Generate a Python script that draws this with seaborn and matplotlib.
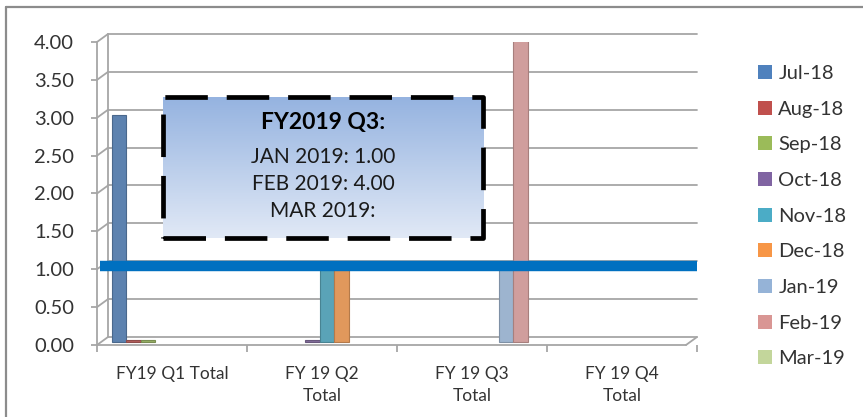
import numpy as np
import pandas as pd
import matplotlib.pyplot as plt
import matplotlib.transforms as mtransforms
from matplotlib.patches import Patch, Rectangle
from matplotlib.lines import Line2D
from matplotlib.colors import LinearSegmentedColormap, to_rgb
import seaborn as sns

# data
quarters = ["FY19 Q1 Total", "FY 19 Q2\nTotal", "FY 19 Q3\nTotal", "FY 19 Q4\nTotal"]
months = ["Jul-18", "Aug-18", "Sep-18", "Oct-18", "Nov-18", "Dec-18", "Jan-19", "Feb-19", "Mar-19"]
q1_values = [3.00, 0.02, 0.02, 0, 0, 0, 0, 0, 0]
q2_values = [0, 0, 0, 0.02, 1.00, 1.00, 0, 0, 0]
q3_values = [0, 0, 0, 0, 0, 0, 1.00, 4.00, 0]
q4_values = [0, 0, 0, 0, 0, 0, 0, 0, 0]
target = 1.00
yticks = [0, 0.5, 1.0, 1.5, 2.0, 2.5, 3.0, 3.5, 4.0]
box_title = "FY2019 Q3:"
box_lines = ["JAN 2019: 1.00", "FEB 2019: 4.00", "MAR 2019:"]

colors = ["#4F81BD", "#C0504D", "#9BBB59", "#8064A2", "#4BACC6",
          "#F79646", "#95B3D7", "#D99694", "#C3D69B"]

rows = []
for q, vals in zip(quarters, [q1_values, q2_values, q3_values, q4_values]):
    for m, v in zip(months, vals):
        rows.append({"quarter": q, "month": m, "value": v})
df = pd.DataFrame(rows)

sns.set_style("white")
plt.rcParams["font.family"] = ["Lato", "DejaVu Sans"]
text_col = "#333333"
grid_col = "#a6a6a6"

fig = plt.figure(figsize=(8.63, 4.17), dpi=100)
ax = fig.add_axes([97 / 863, 72 / 417, 600 / 863, 303 / 417])

sns.barplot(data=df, x="quarter", y="value", hue="month", order=quarters,
            hue_order=months, palette=colors, width=0.87, linewidth=0,
            ax=ax, legend=False, zorder=3)

# depth shift for bars and target line (3D look of the original) + darker rims
shift = mtransforms.ScaledTranslation(5 / 100, 3 / 100, fig.dpi_scale_trans)
for p in ax.patches:
    p.set_transform(ax.transData + shift)
    fc = np.array(to_rgb(p.get_facecolor()))
    p.set_edgecolor(fc * 0.8)
    p.set_linewidth(0.8 if p.get_height() > 0 else 0)

ax.set_xlim(-0.5, 3.5)
ax.set_ylim(0, 4)
ax.set_xlabel("")
ax.set_ylabel("")

# back wall gridlines with depth offset
dx, dy = 11 / 600, 8 / 303 * 4
ytrans = ax.get_yaxis_transform()
for v in yticks:
    ax.plot([0, dx], [v, v + dy], transform=ytrans, color=grid_col, lw=1.3,
            clip_on=False, zorder=1)
    ax.plot([dx, 1], [v + dy, v + dy], transform=ytrans, color=grid_col, lw=1.3,
            clip_on=False, zorder=1)
# floor front edge and right corner
ax.plot([0, 1 - dx], [0, 0], transform=ytrans, color=grid_col, lw=1.3, clip_on=False, zorder=2)
ax.plot([1 - dx, 1], [0, dy], transform=ytrans, color=grid_col, lw=1.3, clip_on=False, zorder=2)
ax.plot([dx, dx], [dy, 4 + dy], transform=ytrans, color=grid_col, lw=1.3, clip_on=False, zorder=1)

# target line
tl = ax.axhline(target, xmin=0.005, color="#0070C0", lw=7.5, zorder=5, clip_on=False,
                solid_capstyle="butt")
tl.set_transform(tl.get_transform() + mtransforms.ScaledTranslation(0, 3 / 100, fig.dpi_scale_trans))

for s in ["top", "right", "bottom"]:
    ax.spines[s].set_visible(False)
ax.spines["left"].set_color(grid_col)
ax.spines["left"].set_linewidth(1.3)

ax.set_yticks(yticks)
ax.set_yticklabels([f"{v:.2f}" for v in yticks])
ax.tick_params(axis="y", which="major", length=4.5, width=1.3, color=grid_col,
               direction="out", pad=12, labelsize=14.5, labelcolor=text_col, left=True)
ax.set_xticks(range(len(quarters)))
ax.set_xticklabels(quarters, linespacing=1.45)
ax.set_xticks(np.arange(-0.5, 4.0, 1.0), minor=True)
ax.tick_params(axis="x", which="major", length=0, pad=15, labelsize=12.5, labelcolor=text_col)
ax.tick_params(axis="x", which="minor", length=5, width=1.3, color=grid_col, direction="out", bottom=True)

# legend
handles = [Patch(facecolor=c, edgecolor="none") for c in colors]
fig.legend(handles, months, loc="upper left", bbox_to_anchor=(740 / 863, 1 - 47 / 417),
           frameon=False, fontsize=14.5, handlelength=0.7, handleheight=0.7,
           handletextpad=0.3, labelspacing=0.92, labelcolor=text_col)

# annotation box with gradient fill
bx0, by0, bw, bh = 163 / 863, 1 - 238 / 417, 320 / 863, 141 / 417
box_ax = fig.add_axes([bx0, by0, bw, bh], zorder=10)
grad = np.linspace(0, 1, 256).reshape(-1, 1)
cmap = LinearSegmentedColormap.from_list("box", ["#95B3E0", "#E1E9F6"])
box_ax.imshow(grad, aspect="auto", cmap=cmap, extent=[0, 1, 0, 1], origin="upper")
box_ax.set_xlim(0, 1)
box_ax.set_ylim(0, 1)
box_ax.axis("off")
box_ax.add_patch(Rectangle((0, 0), 1, 1, transform=box_ax.transAxes, fill=False,
                           edgecolor="black", lw=3.4, linestyle=(0, (9, 4)),
                           clip_on=False, joinstyle="round"))
cx = bx0 + bw / 2
fig.text(cx, 1 - 123 / 417, box_title, ha="center", va="center", fontsize=16.5,
         fontweight="bold", color="black", zorder=11)
for i, t in enumerate(box_lines):
    fig.text(cx, 1 - (157 + 27 * i) / 417, t, ha="center", va="center",
             fontsize=15, color="#1a1a1a", zorder=11)

# chart area border (top and left visible)
fig.add_artist(Line2D([6 / 863, 1], [1 - 7 / 417, 1 - 7 / 417], color="#8c8c8c", lw=1.6))
fig.add_artist(Line2D([6 / 863, 6 / 863], [0, 1 - 7 / 417], color="#8c8c8c", lw=1.6))

fig.savefig("out.png", dpi=100)
